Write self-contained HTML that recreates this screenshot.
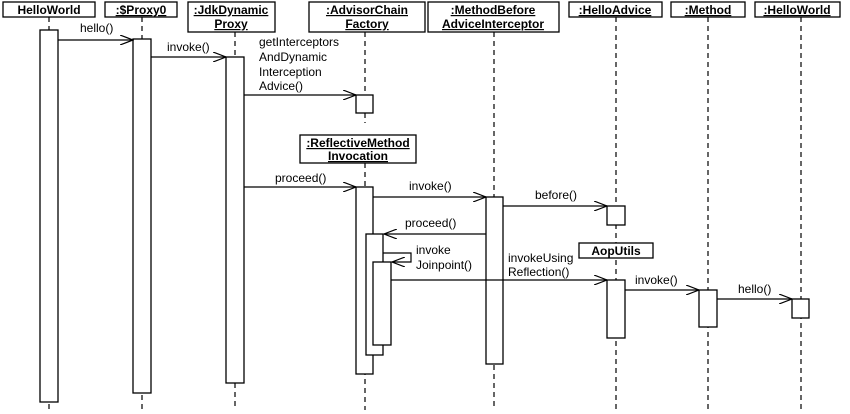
<!DOCTYPE html>
<html><head><meta charset="utf-8"><style>
body{margin:0;background:#fff;}
svg{display:block;font-family:"Liberation Sans",Arial,sans-serif;}
.h{font-weight:bold;font-size:12px;text-decoration:underline;}
</style></head><body>
<svg width="850" height="414" viewBox="0 0 850 414" xmlns="http://www.w3.org/2000/svg">
<defs><marker id="a" markerWidth="14" markerHeight="10" refX="13" refY="5" orient="auto" markerUnits="userSpaceOnUse"><path d="M0,0 L13,5 L0,10" fill="none" stroke="#000" stroke-width="1.2"/></marker></defs>
<g stroke="#000" stroke-width="1.2" stroke-dasharray="5,4" fill="none">
<line x1="49" y1="17" x2="49" y2="410"/>
<line x1="142" y1="17" x2="142" y2="410"/>
<line x1="235" y1="32" x2="235" y2="410"/>
<line x1="365" y1="32" x2="365" y2="123"/>
<line x1="365" y1="163" x2="365" y2="410"/>
<line x1="494" y1="32" x2="494" y2="410"/>
<line x1="616" y1="17" x2="616" y2="410"/>
<line x1="708" y1="17" x2="708" y2="410"/>
<line x1="801" y1="17" x2="801" y2="410"/>
</g>
<g stroke="#000" stroke-width="1.3" fill="#fff">
<rect x="3" y="2" width="92" height="15"/>
<rect x="105" y="2" width="72" height="15"/>
<rect x="188" y="2" width="87" height="30"/>
<rect x="309" y="2" width="116" height="30"/>
<rect x="428" y="2" width="131" height="30"/>
<rect x="569" y="2" width="93" height="15"/>
<rect x="671" y="2" width="74" height="15"/>
<rect x="755" y="2" width="85" height="15"/>
<rect x="300" y="135" width="116" height="28"/>
<rect x="579" y="243" width="74" height="15"/>
<rect x="40" y="30" width="18" height="372"/>
<rect x="133" y="39" width="18" height="354"/>
<rect x="226" y="57" width="18" height="326"/>
<rect x="356" y="95" width="17" height="18"/>
<rect x="356" y="187" width="17" height="187"/>
<rect x="366" y="234" width="17" height="121"/>
<rect x="373" y="262" width="18" height="83"/>
<rect x="486" y="197" width="17" height="167"/>
<rect x="607" y="206" width="18" height="19"/>
<rect x="607" y="280" width="18" height="58"/>
<rect x="699" y="290" width="18" height="37"/>
<rect x="792" y="299" width="17" height="19"/>
</g>
<g font-weight="bold" font-size="12" text-anchor="middle">
<text x="49" y="14">HelloWorld</text>
<text class="h" x="141" y="14">:$Proxy0</text>
<text class="h" x="231" y="14">:JdkDynamic</text>
<text class="h" x="231" y="28">Proxy</text>
<text class="h" x="367" y="14">:AdvisorChain</text>
<text class="h" x="367" y="28">Factory</text>
<text class="h" x="493" y="14">:MethodBefore</text>
<text class="h" x="493" y="28">AdviceInterceptor</text>
<text class="h" x="615" y="14">:HelloAdvice</text>
<text class="h" x="708" y="14">:Method</text>
<text class="h" x="797" y="14">:HelloWorld</text>
<text class="h" x="358" y="147">:ReflectiveMethod</text>
<text class="h" x="358" y="160">Invocation</text>
<text x="616" y="255">AopUtils</text>
</g>
<g stroke="#000" stroke-width="1.2" fill="none" marker-end="url(#a)">
<line x1="58" y1="40" x2="133" y2="40"/>
<line x1="151" y1="57" x2="226" y2="57"/>
<line x1="244" y1="95" x2="356" y2="95"/>
<line x1="244" y1="187" x2="356" y2="187"/>
<line x1="373" y1="197" x2="486" y2="197"/>
<line x1="503" y1="206" x2="607" y2="206"/>
<line x1="486" y1="234" x2="384" y2="234"/>
<polyline points="383,253 411,253 411,262 392,262"/>
<line x1="391" y1="280" x2="607" y2="280"/>
<line x1="625" y1="290" x2="699" y2="290"/>
<line x1="717" y1="299" x2="792" y2="299"/>
</g>
<g font-size="12">
<text x="80" y="32">hello()</text>
<text x="167" y="51">invoke()</text>
<text x="259" y="46">getInterceptors</text>
<text x="259" y="61">AndDynamic</text>
<text x="259" y="76">Interception</text>
<text x="259" y="90">Advice()</text>
<text x="275" y="182">proceed()</text>
<text x="409" y="190">invoke()</text>
<text x="535" y="199">before()</text>
<text x="405" y="227">proceed()</text>
<text x="416" y="254">invoke</text>
<text x="416" y="269">Joinpoint()</text>
<text x="508" y="262">invokeUsing</text>
<text x="508" y="276">Reflection()</text>
<text x="635" y="284">invoke()</text>
<text x="738" y="293">hello()</text>
</g>
</svg>
</body></html>
